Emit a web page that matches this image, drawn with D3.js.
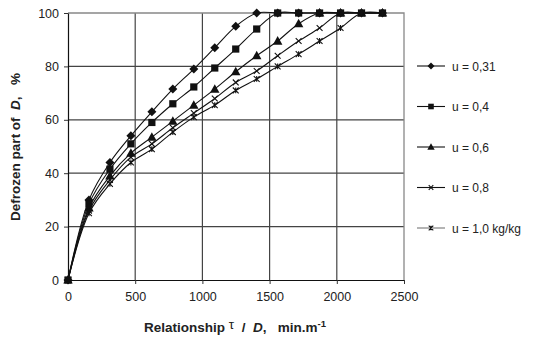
<!DOCTYPE html>
<html>
  <head>
    <style>
    body { margin: 0; background: #fff; }
    svg { display: block; font-family: Arial, "Liberation Sans", sans-serif; }
    text { white-space: pre; }
    </style>
    <script src="https://d3js.org/d3.v7.min.js"></script>
  </head>
  <body>
    <script type="text/javascript">
    // relationship tau / D, min.m-1
    var xValues = [0, 156, 312, 468, 624, 780, 936, 1092, 1248, 1404, 1560, 1716, 1872, 2028, 2184, 2340];
    // defrozen part of D, %
    var u031 = [0, 30, 44, 54, 63, 71.5, 79, 87, 95, 100, 100, 100, 100, 100, 100, 100];
    var u04  = [0, 28.5, 41.5, 51, 59, 66, 72.3, 79.4, 86.5, 94, 100, 100, 100, 100, 100, 100];
    var u06  = [0, 27, 39, 47.5, 53.5, 59.5, 65.5, 71.5, 78, 84, 89.5, 96, 100, 100, 100, 100];
    var u08  = [0, 26, 37.5, 46, 51, 57, 62.5, 68, 74, 78.3, 84, 89.5, 94.4, 100, 100, 100];
    var u10  = [0, 25, 36, 44, 49, 55.4, 61, 65.5, 71, 75.3, 80, 84.6, 89.5, 94.4, 100, 100];
    var seriesNames = ["u = 0,31", "u = 0,4", "u = 0,6", "u = 0,8", "u = 1,0 kg/kg"];
    var markerTypes = ["diamond", "square", "triangle", "cross", "star"];
    var xTicks = [0, 500, 1000, 1500, 2000, 2500];
    var yTicks = [0, 20, 40, 60, 80, 100];

    var series = [u031, u04, u06, u08, u10].map(function(vals, i) {
      return {
        name: seriesNames[i],
        marker: markerTypes[i],
        points: vals.map(function(v, j) { return {x: xValues[j], y: v}; })
      };
    });

    var W = 533, H = 344;
    var plotL = 68, plotR = 404, plotT = 13, plotB = 280;

    var svg = d3.select("body").append("svg")
      .attr("width", W).attr("height", H);

    var x = d3.scaleLinear().domain([0, 2500]).range([plotL, plotR]);
    var y = d3.scaleLinear().domain([0, 100]).range([plotB, plotT]);

    // grid
    svg.append("g").selectAll("line")
      .data(xTicks.slice(1, -1)).enter().append("line")
      .attr("x1", function(d) { return x(d); }).attr("x2", function(d) { return x(d); })
      .attr("y1", plotT).attr("y2", plotB)
      .attr("stroke", "#444").attr("stroke-width", 1.2);
    svg.append("g").selectAll("line")
      .data(yTicks.slice(1, -1)).enter().append("line")
      .attr("x1", plotL).attr("x2", plotR)
      .attr("y1", function(d) { return y(d); }).attr("y2", function(d) { return y(d); })
      .attr("stroke", "#444").attr("stroke-width", 1.2);

    // frame top & right
    svg.append("path")
      .attr("d", "M" + plotL + "," + plotT + "H" + plotR + "V" + plotB)
      .attr("fill", "none").attr("stroke", "#888").attr("stroke-width", 1.3);

    // axes
    var xAxis = svg.append("g")
      .attr("transform", "translate(0," + plotB + ")")
      .call(d3.axisBottom(x).tickValues(xTicks).tickFormat(d3.format("d"))
        .tickSize(4).tickPadding(8).tickSizeOuter(0));
    var yAxis = svg.append("g")
      .attr("transform", "translate(" + plotL + ",0)")
      .call(d3.axisLeft(y).tickValues(yTicks).tickFormat(d3.format("d"))
        .tickSize(4).tickPadding(5).tickSizeOuter(0));
    [xAxis, yAxis].forEach(function(a) {
      a.selectAll("text").attr("font-size", 12.5).attr("fill", "#222")
        .attr("font-family", "Arial, 'Liberation Sans', sans-serif");
      a.select(".domain").attr("stroke", "#111").attr("stroke-width", 1.2);
      a.selectAll(".tick line").attr("stroke", "#333");
    });

    // lines
    var line = d3.line()
      .x(function(d) { return x(d.x); })
      .y(function(d) { return y(d.y); })
      .curve(d3.curveCatmullRom.alpha(0.5));

    function drawMarker(g, type, cx, cy, r) {
      if (type === "diamond") {
        g.append("path").attr("d", "M" + cx + "," + (cy - r) + "L" + (cx + r) + "," + cy +
          "L" + cx + "," + (cy + r) + "L" + (cx - r) + "," + cy + "Z").attr("fill", "#111");
      } else if (type === "square") {
        g.append("rect").attr("x", cx - r * 0.8).attr("y", cy - r * 0.8)
          .attr("width", r * 1.6).attr("height", r * 1.6).attr("fill", "#111");
      } else if (type === "triangle") {
        g.append("path").attr("d", "M" + cx + "," + (cy - r * 1.1) + "L" + (cx + r * 1.05) + "," + (cy + r * 0.8) +
          "L" + (cx - r * 1.05) + "," + (cy + r * 0.8) + "Z").attr("fill", "#111");
      } else if (type === "cross") {
        var c = r * 0.65;
        g.append("path").attr("d", "M" + (cx - c) + "," + (cy - c) + "L" + (cx + c) + "," + (cy + c) +
          "M" + (cx + c) + "," + (cy - c) + "L" + (cx - c) + "," + (cy + c))
          .attr("stroke", "#111").attr("stroke-width", 1.1);
      } else {
        var s = r * 0.65;
        g.append("path").attr("d", "M" + (cx - s) + "," + (cy - s) + "L" + (cx + s) + "," + (cy + s) +
          "M" + (cx + s) + "," + (cy - s) + "L" + (cx - s) + "," + (cy + s) +
          "M" + cx + "," + (cy - s) + "L" + cx + "," + (cy + s))
          .attr("stroke", "#111").attr("stroke-width", 1.1);
      }
    }

    series.forEach(function(s) {
      var g = svg.append("g");
      g.append("path").datum(s.points)
        .attr("d", line)
        .attr("fill", "none").attr("stroke", "#111").attr("stroke-width", 1.1);
      s.points.forEach(function(p) { drawMarker(g, s.marker, x(p.x), y(p.y), 4.5); });
    });

    // legend
    var legendY = d3.scaleLinear().domain([0, 4]).range([66, 228]);
    series.forEach(function(s, i) {
      var g = svg.append("g");
      var ly = legendY(i);
      g.append("line").attr("x1", 417).attr("x2", 445).attr("y1", ly).attr("y2", ly)
        .attr("stroke", i === 4 ? "#777" : "#111").attr("stroke-width", 1.1);
      drawMarker(g, s.marker, 431, ly, 3.5);
      g.append("text").attr("x", 452).attr("y", ly + 4.5)
        .attr("font-size", 12).attr("fill", "#222").text(s.name);
    });

    // axis titles
    var xt = svg.append("text").attr("x", 235).attr("y", 332)
      .attr("text-anchor", "middle").attr("font-size", 13.5).attr("font-weight", "bold").attr("fill", "#222");
    xt.append("tspan").text("Relationship ");
    xt.append("tspan").attr("font-weight", "normal").attr("dy", -3).text("τ");
    xt.append("tspan").attr("dy", 3).text("  /  ");
    xt.append("tspan").attr("font-style", "italic").text("D");
    xt.append("tspan").text(",   min.m");
    xt.append("tspan").attr("dy", -5).attr("font-size", 9.5).text("-1");

    var yt = svg.append("text")
      .attr("transform", "translate(20,147) rotate(-90)")
      .attr("text-anchor", "middle").attr("font-size", 13.5).attr("font-weight", "bold").attr("fill", "#222");
    yt.append("tspan").text("Defrozen part of  ");
    yt.append("tspan").attr("font-style", "italic").text("D");
    yt.append("tspan").text(",   %");
    </script>
  </body>
</html>
